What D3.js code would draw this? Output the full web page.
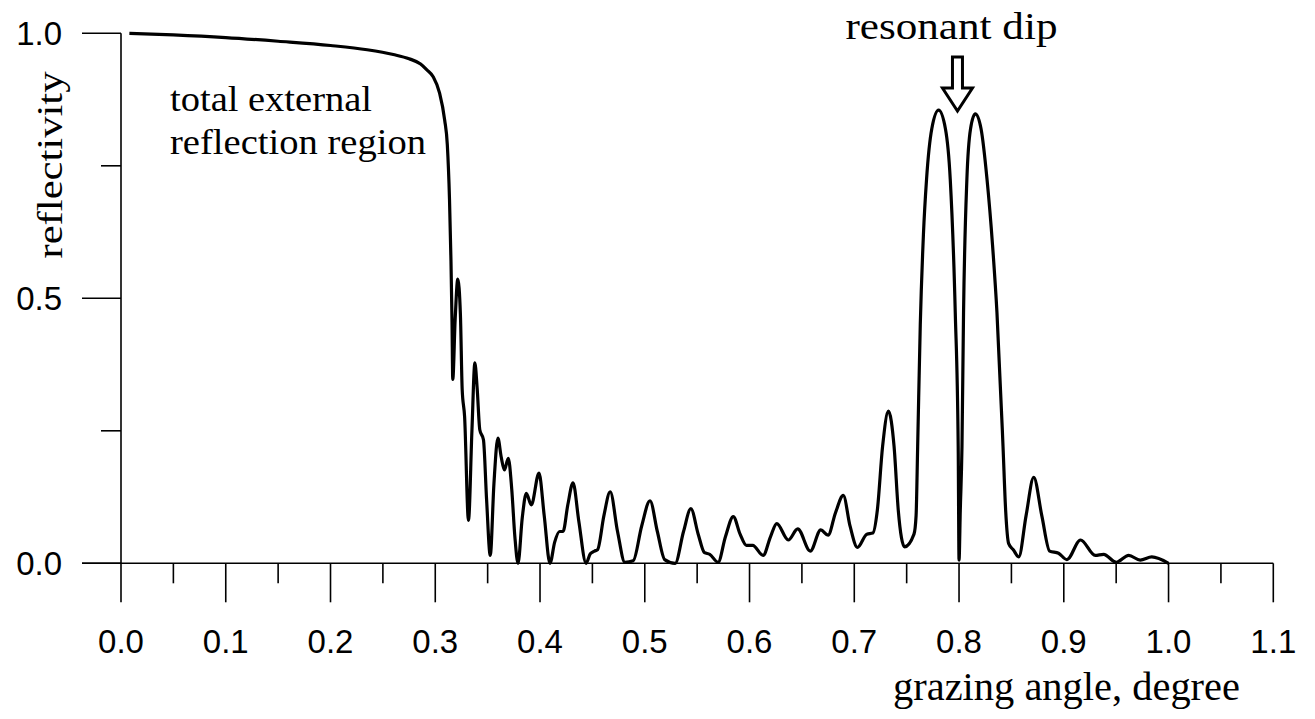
<!DOCTYPE html>
<html>
<head>
<meta charset="utf-8">
<script src="https://cdn.jsdelivr.net/npm/d3@7/dist/d3.min.js"></script>
<style>
  html, body { margin: 0; padding: 0; background: #fff; }
  svg { display: block; }
</style>
</head>
<body>
<svg id="chart" width="1315" height="719"></svg>
<script>
// ---- data ----
const angle = [
  0.008, 0.05, 0.10, 0.15, 0.20, 0.235, 0.26, 0.275, 0.286, 0.292, 0.298, 0.304, 0.309, 0.3115,
  0.3136, 0.315, 0.316, 0.3167, 0.319, 0.3215, 0.324, 0.3257, 0.328, 0.3317, 0.335, 0.3378,
  0.340, 0.3425, 0.346, 0.349, 0.3525, 0.356, 0.3598, 0.363, 0.366, 0.3697, 0.373, 0.376,
  0.379, 0.383, 0.3869, 0.3917, 0.399, 0.404, 0.4095, 0.414, 0.4187, 0.422, 0.4265, 0.4315,
  0.437, 0.444, 0.448, 0.452, 0.455, 0.461, 0.467, 0.474, 0.481, 0.489, 0.497, 0.505,
  0.512, 0.519, 0.529, 0.537, 0.544, 0.551, 0.557, 0.562, 0.570, 0.577, 0.5845, 0.591,
  0.597, 0.603, 0.613, 0.620, 0.626, 0.637, 0.646, 0.658, 0.668, 0.675, 0.682, 0.6895,
  0.696, 0.703, 0.712, 0.7177, 0.722, 0.727, 0.7326, 0.738, 0.742, 0.748, 0.757, 0.759,
  0.7605, 0.763, 0.766, 0.769, 0.774, 0.7805, 0.787, 0.7916, 0.7964, 0.7992, 0.8000,
  0.8012, 0.8028, 0.8043, 0.8075, 0.811, 0.8155, 0.821, 0.8267, 0.832, 0.8362, 0.842,
  0.8445, 0.8474, 0.852, 0.857, 0.864, 0.8713, 0.879, 0.8865, 0.895, 0.903, 0.916, 0.930,
  0.938, 0.950, 0.962, 0.973, 0.984, 1.000
];
const reflectivity = [
  1.000, 0.997, 0.992, 0.985, 0.977, 0.969, 0.960, 0.952, 0.942, 0.931, 0.918, 0.888, 0.836, 0.790,
  0.686, 0.570, 0.455, 0.347, 0.460, 0.536, 0.470, 0.328, 0.277, 0.081, 0.250, 0.378,
  0.330, 0.252, 0.233, 0.120, 0.015, 0.150, 0.236, 0.200, 0.176, 0.198, 0.140, 0.050,
  0.000, 0.085, 0.132, 0.110, 0.170, 0.090, 0.000, 0.040, 0.060, 0.060, 0.110, 0.152,
  0.080, 0.000, 0.018, 0.023, 0.026, 0.090, 0.135, 0.060, 0.002, 0.005, 0.070, 0.118,
  0.060, 0.007, 0.000, 0.060, 0.103, 0.055, 0.020, 0.017, 0.002, 0.050, 0.088, 0.055,
  0.034, 0.034, 0.015, 0.050, 0.075, 0.044, 0.065, 0.023, 0.063, 0.053, 0.095, 0.128,
  0.070, 0.030, 0.055, 0.057, 0.100, 0.220, 0.287, 0.220, 0.100, 0.031, 0.055, 0.090,
  0.220, 0.450, 0.620, 0.725, 0.820, 0.855, 0.820, 0.725, 0.473, 0.220, 0.006,
  0.100, 0.220, 0.473, 0.725, 0.820, 0.848, 0.820, 0.725, 0.600, 0.473, 0.220,
  0.100, 0.037, 0.025, 0.012, 0.090, 0.162, 0.090, 0.023, 0.019, 0.007, 0.044, 0.015,
  0.017, 0.002, 0.015, 0.006, 0.012, 0.000
];
const xMajorTicks = [0.0, 0.1, 0.2, 0.3, 0.4, 0.5, 0.6, 0.7, 0.8, 0.9, 1.0, 1.1];
const xMinorTicks = [0.05, 0.15, 0.25, 0.35, 0.45, 0.55, 0.65, 0.75, 0.85, 0.95, 1.05];
const yMajorTicks = [0.0, 0.5, 1.0];
const yMinorTicks = [0.25, 0.75];
const xTitle = "grazing angle, degree";
const yTitle = "reflectivity";
const noteLines = ["total external", "reflection region"];
const dipLabel = "resonant dip";
const dipAngle = 0.7985;

// ---- drawing ----
const svg = d3.select("#chart");
const x = d3.scaleLinear().domain([0, 1.1]).range([121, 1273.3]);
const y = d3.scaleLinear().domain([0, 1]).range([563.3, 33.3]);

const axisColor = "#000";
const g = svg.append("g");

// x axis line (extends left to the y major tick length)
g.append("line").attr("x1", x(0) - 39).attr("x2", x(1.1))
  .attr("y1", y(0)).attr("y2", y(0))
  .attr("stroke", axisColor).attr("stroke-width", 1.6);
// y axis line
g.append("line").attr("x1", x(0)).attr("x2", x(0))
  .attr("y1", y(1)).attr("y2", y(0))
  .attr("stroke", axisColor).attr("stroke-width", 1.6);

// x ticks
g.selectAll(".xmaj").data(xMajorTicks).join("line")
  .attr("x1", d => x(d)).attr("x2", d => x(d))
  .attr("y1", y(0)).attr("y2", y(0) + 39)
  .attr("stroke", axisColor).attr("stroke-width", 1.6);
g.selectAll(".xmin").data(xMinorTicks).join("line")
  .attr("x1", d => x(d)).attr("x2", d => x(d))
  .attr("y1", y(0)).attr("y2", y(0) + 20)
  .attr("stroke", axisColor).attr("stroke-width", 1.6);
g.selectAll(".xlab").data(xMajorTicks).join("text")
  .attr("x", d => x(d)).attr("y", 653)
  .attr("text-anchor", "middle")
  .attr("font-family", "'Liberation Sans', Arial, sans-serif")
  .attr("font-size", 33)
  .text(d => d.toFixed(1));

// y ticks
g.selectAll(".ymaj").data(yMajorTicks).join("line")
  .attr("x1", x(0) - 39).attr("x2", x(0))
  .attr("y1", d => y(d)).attr("y2", d => y(d))
  .attr("stroke", axisColor).attr("stroke-width", 1.6);
g.selectAll(".ymin").data(yMinorTicks).join("line")
  .attr("x1", x(0) - 20).attr("x2", x(0))
  .attr("y1", d => y(d)).attr("y2", d => y(d))
  .attr("stroke", axisColor).attr("stroke-width", 1.6);
g.selectAll(".ylab").data(yMajorTicks).join("text")
  .attr("x", 62).attr("y", d => y(d)).attr("dy", "0.36em")
  .attr("text-anchor", "end")
  .attr("font-family", "'Liberation Sans', Arial, sans-serif")
  .attr("font-size", 33)
  .text(d => d.toFixed(1));

// curve
const pts = angle.map((a, i) => [a, reflectivity[i]]);
const line = d3.line().x(d => x(d[0])).y(d => y(d[1])).curve(d3.curveMonotoneX);
g.append("path").attr("d", line(pts))
  .attr("fill", "none").attr("stroke", "#000").attr("stroke-width", 3.2)
  .attr("stroke-linejoin", "round");

// titles
const serif = "'Liberation Serif', 'Times New Roman', serif";
g.append("text").attr("x", 893).attr("y", 700)
  .attr("font-family", serif).attr("font-size", 39)
  .attr("textLength", 347).attr("lengthAdjust", "spacingAndGlyphs")
  .text(xTitle);
g.append("text").attr("transform", "translate(62,165) rotate(-90)")
  .attr("text-anchor", "middle")
  .attr("font-family", serif).attr("font-size", 36)
  .attr("textLength", 187).attr("lengthAdjust", "spacingAndGlyphs")
  .text(yTitle);

// notes
g.append("text").attr("x", 170).attr("y", 111)
  .attr("font-family", serif).attr("font-size", 36)
  .attr("textLength", 202).attr("lengthAdjust", "spacingAndGlyphs")
  .text(noteLines[0]);
g.append("text").attr("x", 170).attr("y", 154)
  .attr("font-family", serif).attr("font-size", 36)
  .attr("textLength", 256).attr("lengthAdjust", "spacingAndGlyphs")
  .text(noteLines[1]);

// resonant dip label + arrow
const ax = x(dipAngle);
g.append("text").attr("x", ax - 6).attr("y", 39)
  .attr("text-anchor", "middle")
  .attr("font-family", serif).attr("font-size", 37)
  .attr("textLength", 212).attr("lengthAdjust", "spacingAndGlyphs")
  .text(dipLabel);
const arrow = d3.path();
arrow.moveTo(ax - 5, 57); arrow.lineTo(ax + 5, 57); arrow.lineTo(ax + 5, 88);
arrow.lineTo(ax + 15, 88); arrow.lineTo(ax, 111); arrow.lineTo(ax - 15, 88);
arrow.lineTo(ax - 5, 88); arrow.closePath();
g.append("path").attr("d", arrow.toString())
  .attr("fill", "#fff").attr("stroke", "#000").attr("stroke-width", 3)
  .attr("stroke-linejoin", "miter");
</script>
</body>
</html>
